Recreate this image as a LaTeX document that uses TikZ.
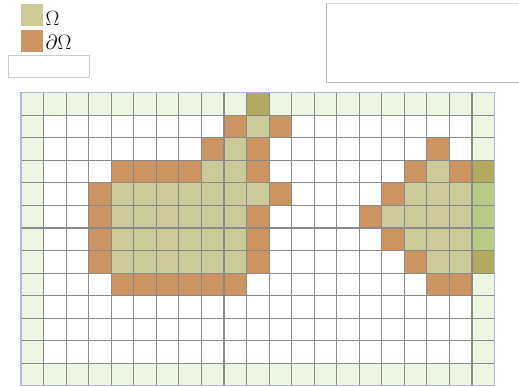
\documentclass[tikz,border=0pt]{standalone}
\usepackage{tikz}
\definecolor{bnd}{HTML}{EDF5E3}
\definecolor{omg}{HTML}{CCCB97}
\definecolor{dom}{HTML}{CC9461}
\definecolor{drk}{HTML}{B3AA62}
\definecolor{brt}{HTML}{B6CC86}
\definecolor{gridc}{HTML}{8A8A8A}
\definecolor{frame}{HTML}{B4B6E2}
\tikzset{
  gline/.style={draw=gridc, line width=1.1pt},
  lbl/.style={font=\fontsize{22}{26}\selectfont, inner sep=0pt, anchor=base west},
}
\begin{document}
\begin{tikzpicture}[x=1pt,y=-1pt]
\useasboundingbox (0,0) rectangle (519,387);
% legend
\fill[omg] (21,4) rectangle (43,26);
\fill[dom] (21,30) rectangle (43,52);
\node[lbl] (lo) at (45.5,26) {$\Omega$};
\node[lbl] (ld) at (45.5,49.5) {$\partial\Omega$};
\draw[draw=black!20, line width=0.8pt] (8.5,55.5) rectangle (89,77);
% top right box
\draw[draw=black!12, line width=0.8pt] (326.5,3) -- (519,3);
\draw[draw=black!28, line width=0.8pt] (326.5,3) -- (326.5,82) -- (519,82);
% grid
\begin{scope}[shift={(21pt,-92.7pt)}, x=22.55pt, y=-22.55pt]
  % boundary cells
  \foreach \c in {0,...,20} {\fill[bnd] (\c,0) rectangle ++(1,1); \fill[bnd] (\c,12) rectangle ++(1,1);}
  \foreach \r in {1,...,11} {\fill[bnd] (0,\r) rectangle ++(1,1); \fill[bnd] (20,\r) rectangle ++(1,1);}
  % omega cells
  \foreach \c/\r in {10/1, 9/2, 8/3, 9/3, 18/3, 17/4, 18/4, 19/4, 16/5, 17/5, 18/5, 19/5, 17/6, 18/6, 19/6, 18/7, 19/7, 10/4}
    \fill[omg] (\c,\r) rectangle ++(1,1);
  \foreach \r in {4,...,7} {\foreach \c in {4,...,9} {\fill[omg] (\c,\r) rectangle ++(1,1);}}
  % boundary of omega
  \foreach \c/\r in {9/1, 11/1, 8/2, 10/2, 18/2, 4/3, 5/3, 6/3, 7/3, 10/3, 17/3, 19/3, 3/4, 11/4, 16/4, 3/5, 10/5, 15/5, 3/6, 10/6, 16/6, 3/7, 10/7, 17/7, 4/8, 5/8, 6/8, 7/8, 8/8, 9/8, 18/8, 19/8}
    \fill[dom] (\c,\r) rectangle ++(1,1);
  \foreach \c/\r in {10/0, 20/3, 20/7} \fill[drk] (\c,\r) rectangle ++(1,1);
  \foreach \r in {4,5,6} \fill[brt] (20,\r) rectangle ++(1,1);
  \foreach \c in {1,...,20} \draw[gline] (\c,0) -- (\c,13);
  \foreach \r in {1,...,12} \draw[gline] (0,\r) -- (21,\r);
  \draw[frame, line width=1.1pt] (0,0) rectangle (21,13);
\end{scope}
\end{tikzpicture}
\end{document}
